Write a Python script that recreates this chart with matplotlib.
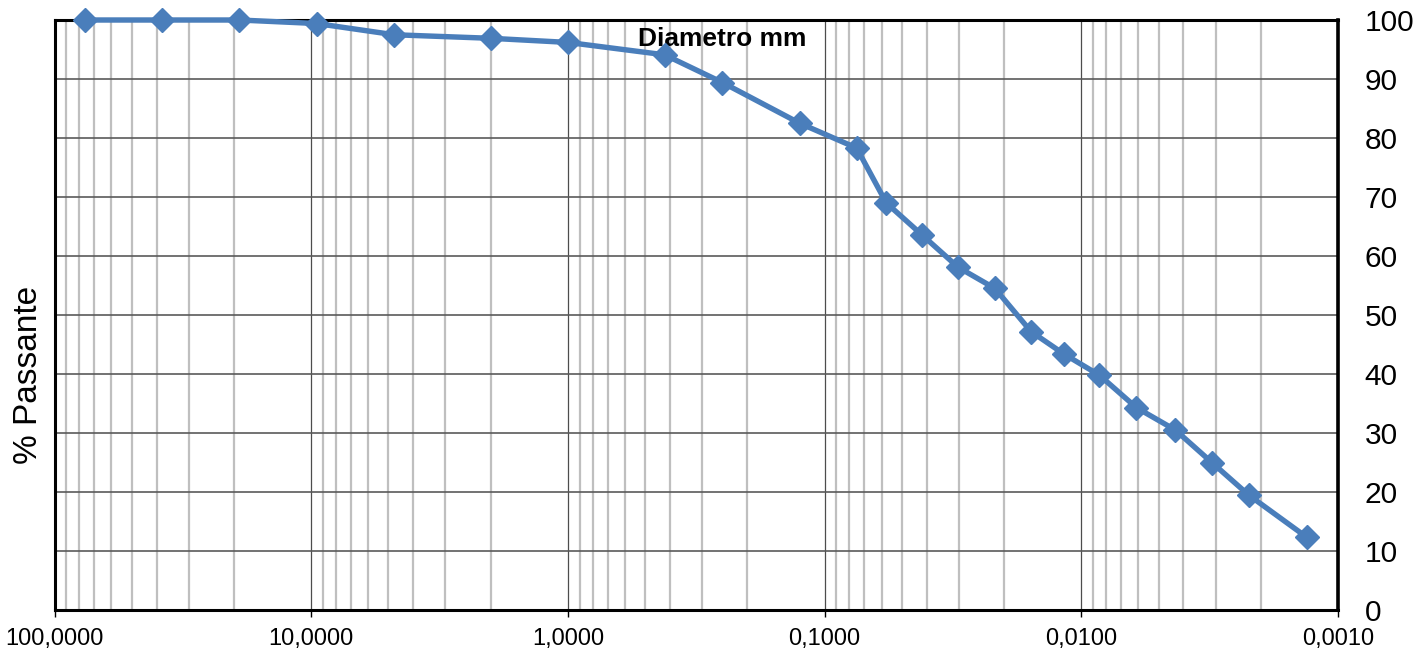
import matplotlib
matplotlib.use('Agg')
import matplotlib.pyplot as plt
from matplotlib.ticker import LogLocator, NullFormatter, FixedLocator, FixedFormatter

# Data
diameter_mm = [76.2, 38.1, 19.05, 9.52, 4.75, 2.0, 1.0, 0.42, 0.25, 0.125, 0.075,
               0.0575, 0.0418, 0.0302, 0.0217, 0.0157, 0.0117, 0.0085, 0.0061,
               0.0043, 0.0031, 0.00223, 0.00132]
passing_pct = [100, 100, 100, 99.4, 97.5, 96.9, 96.2, 94.1, 89.4, 82.5, 78.3,
               69.0, 63.6, 58.1, 54.5, 47.2, 43.4, 39.8, 34.3,
               30.5, 25.0, 19.5, 12.3]
x_ticks = [100, 10, 1, 0.1, 0.01, 0.001]
x_tick_labels = ["100,0000", "10,0000", "1,0000", "0,1000", "0,0100", "0,0010"]
y_ticks = list(range(0, 101, 10))

plt.rcParams['font.family'] = ['Liberation Sans', 'DejaVu Sans']

fig = plt.figure(figsize=(14.23, 6.56), dpi=100)
ax = fig.add_axes([0.03830, 0.07012, 0.90197, 0.89939])

line_color = '#4A7EBB'
ax.plot(diameter_mm, passing_pct, color=line_color, lw=3.9, marker='D', ms=12,
        mec=line_color, mfc=line_color, zorder=5, clip_on=False)

ax.set_xscale('log')
ax.set_xlim(100, 0.001)
ax.set_ylim(0, 100)

ax.xaxis.set_major_locator(FixedLocator(x_ticks))
ax.xaxis.set_major_formatter(FixedFormatter(x_tick_labels))
ax.xaxis.set_minor_locator(LogLocator(base=10, subs=range(2, 10), numticks=20))
ax.xaxis.set_minor_formatter(NullFormatter())
ax.set_yticks(y_ticks)

ax.grid(which='minor', axis='x', color='#BFBFBF', lw=1.6)
ax.grid(which='major', axis='x', color='#4D4D4D', lw=0.9)
ax.grid(which='major', axis='y', color='#5A5A5A', lw=1.2)
ax.set_axisbelow(True)

ax.yaxis.tick_right()
ax.tick_params(axis='y', length=0, pad=19, labelsize=21.5, colors='black')
ax.tick_params(axis='x', which='major', length=5, width=1, pad=7.6, labelsize=17)
ax.tick_params(axis='x', which='minor', length=0)

for side in ['left', 'bottom', 'top']:
    ax.spines[side].set_linewidth(2.2)
    ax.spines[side].set_color('black')
ax.spines['right'].set_linewidth(2.6)
ax.spines['right'].set_color('black')

ax.yaxis.set_label_position('left')
ax.set_ylabel('% Passante', fontsize=24)
ax.yaxis.label.set_verticalalignment('center')
ax.yaxis.label.set_horizontalalignment('center')
ax.yaxis.set_label_coords(-0.0205, 0.398)

ax.set_xlabel('Diametro mm', fontsize=19, fontweight='bold', va='center', ha='center')
ax.xaxis.set_label_coords(0.520, 0.9675)

fig.savefig('out.png', dpi=100)
